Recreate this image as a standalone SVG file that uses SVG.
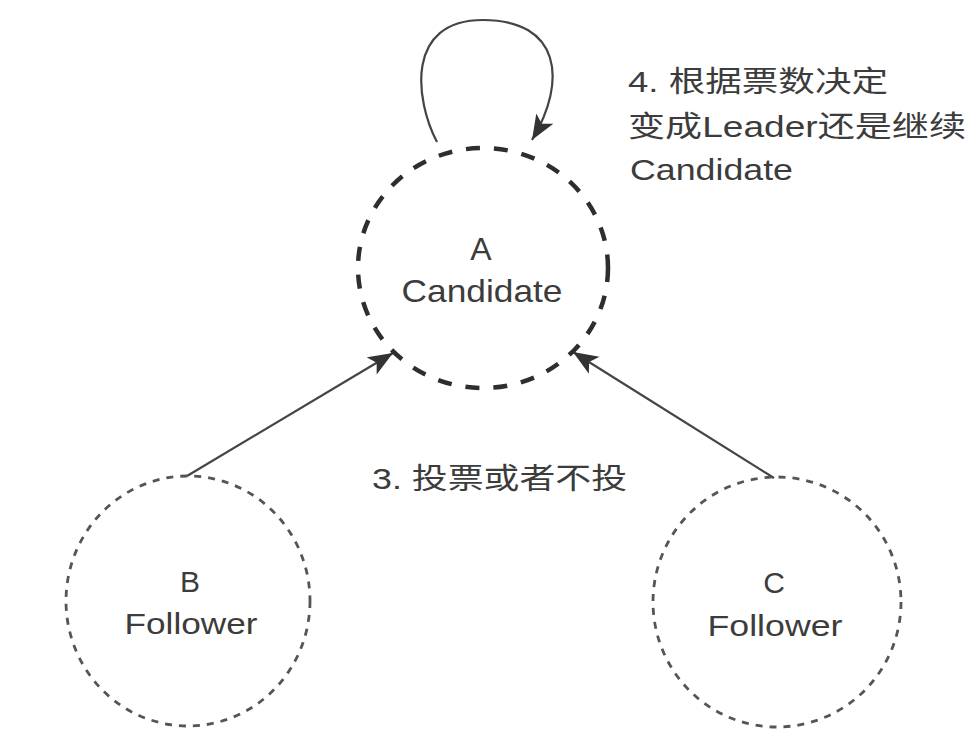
<svg xmlns="http://www.w3.org/2000/svg" width="968" height="744" viewBox="0 0 968 744">
<defs>
<style>
.t{font-family:"Liberation Sans","Noto Sans CJK SC",sans-serif;fill:#3c3c3c;text-anchor:middle}
.l{font-family:"Liberation Sans","Noto Sans CJK SC",sans-serif;fill:#3c3c3c;font-size:29px}
.big{stroke:#2e2e2e;stroke-width:4.5;fill:none;stroke-dasharray:14 14}
.small{stroke:#555;stroke-width:2.8;fill:none;stroke-dasharray:7 7}
.e{stroke:#444;stroke-width:2.2;fill:none}
</style>
<marker id="ah" markerUnits="userSpaceOnUse" markerWidth="28" markerHeight="22" refX="25" refY="10" orient="auto">
<path d="M0,0 L25,10 L0,20 L6,10 z" fill="#333"/>
</marker>
</defs>
<rect width="968" height="744" fill="#ffffff"/>
<g id="edges">
<path class="e" d="M437,142 C415,100 405,20 483,20 C560,20 568,80 532,140" marker-end="url(#ah)"/>
<line class="e" x1="187" y1="476" x2="393" y2="353" marker-end="url(#ah)"/>
<line class="e" x1="774" y1="478" x2="573" y2="352" marker-end="url(#ah)"/>
</g>
<g id="nodeA">
<ellipse class="big" cx="483" cy="268" rx="125" ry="120"/>
<text class="t" x="481" y="260" font-size="32">A</text>
<text class="t" x="482" y="302" font-size="32" textLength="161" lengthAdjust="spacingAndGlyphs">Candidate</text>
</g>
<g id="nodeB">
<ellipse class="small" cx="188" cy="601" rx="122" ry="125"/>
<text class="t" x="190" y="592" font-size="30">B</text>
<text class="t" x="191" y="634" font-size="30" textLength="133" lengthAdjust="spacingAndGlyphs">Follower</text>
</g>
<g id="nodeC">
<ellipse class="small" cx="777" cy="602" rx="124" ry="125"/>
<text class="t" x="774" y="593" font-size="30">C</text>
<text class="t" x="775" y="636" font-size="30" textLength="135" lengthAdjust="spacingAndGlyphs">Follower</text>
</g>
<g id="labels">
<text class="l" x="628" y="92" textLength="260" lengthAdjust="spacingAndGlyphs">4. 根据票数决定</text>
<text class="l" x="628" y="137" textLength="338" lengthAdjust="spacingAndGlyphs">变成Leader还是继续</text>
<text class="l" x="630" y="180" textLength="163" lengthAdjust="spacingAndGlyphs">Candidate</text>
<text class="l" x="372" y="489" textLength="255" lengthAdjust="spacingAndGlyphs">3. 投票或者不投</text>
</g>
</svg>
